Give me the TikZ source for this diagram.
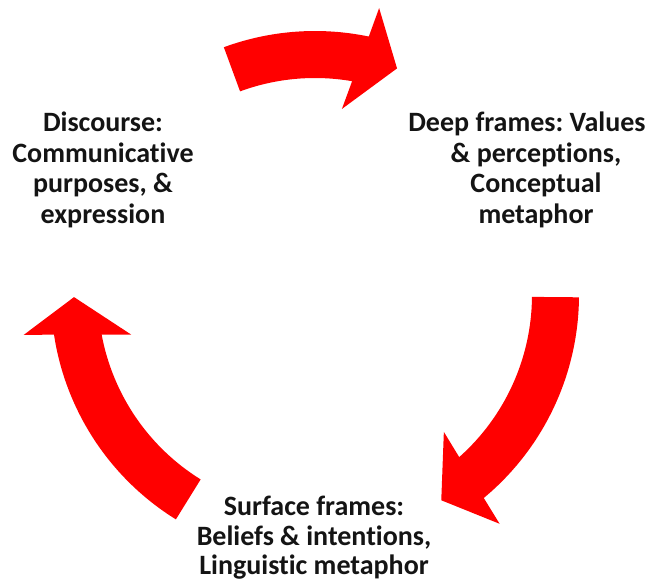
\documentclass[tikz,border=0pt]{standalone}
\usepackage{fontspec}
\setmainfont{Carlito}[Ligatures=NoCommon]
\usepackage{tikz}
\usepackage{xcolor}
\frenchspacing

\definecolor{arrowred}{RGB}{255,0,0}
\definecolor{textdark}{RGB}{20,20,20}

% fleche courbe : #1 angle de la queue, #2 angle de la base de la pointe
\newcommand{\cyclearrow}[2]{%
  \fill[arrowred] (#1:264pt) arc[start angle=#1, end angle={#2-0.86}, radius=264pt]
    -- ({#2-1.7}:294pt) -- ({#2-9}:241pt) -- ({#2+2.67}:188pt) -- ({#2+1.05}:217pt)
    arc[start angle={#2+1.05}, end angle=#1, radius=217pt] -- cycle;}

\begin{document}
\begin{tikzpicture}[x=1pt,y=1pt,
    cycletext/.style={align=center, inner sep=0pt, anchor=north, text=textdark,
      font=\fontsize{28}{30.5}\selectfont\bfseries}]
        \useasboundingbox (0,0) rectangle (648,582);
        \fill[white] (0,0) rectangle (648,582);
        % Fleches
        \begin{scope}[shift={(315,287)}]
          \cyclearrow{110.2}{79.1}
          \cyclearrow{-0.5}{-49.4}
          \cyclearrow{238.2}{189.5}
        \end{scope}
        % Textes
        \node[cycletext] (discourse) at (103,470) {Discourse:\\Communicative\\purposes, \&\\expression};
        \node[cycletext] (deep) at (536,470) {Deep frames: Values\hspace*{18pt}\\\& perceptions,\hspace*{18pt}\\Conceptual\\metaphor};
        \node[cycletext, font=\fontsize{28}{29.5}\selectfont\bfseries] (surface) at (314,86) {Surface frames:\\Beliefs \& intentions,\\Linguistic metaphor};
\end{tikzpicture}
\end{document}
